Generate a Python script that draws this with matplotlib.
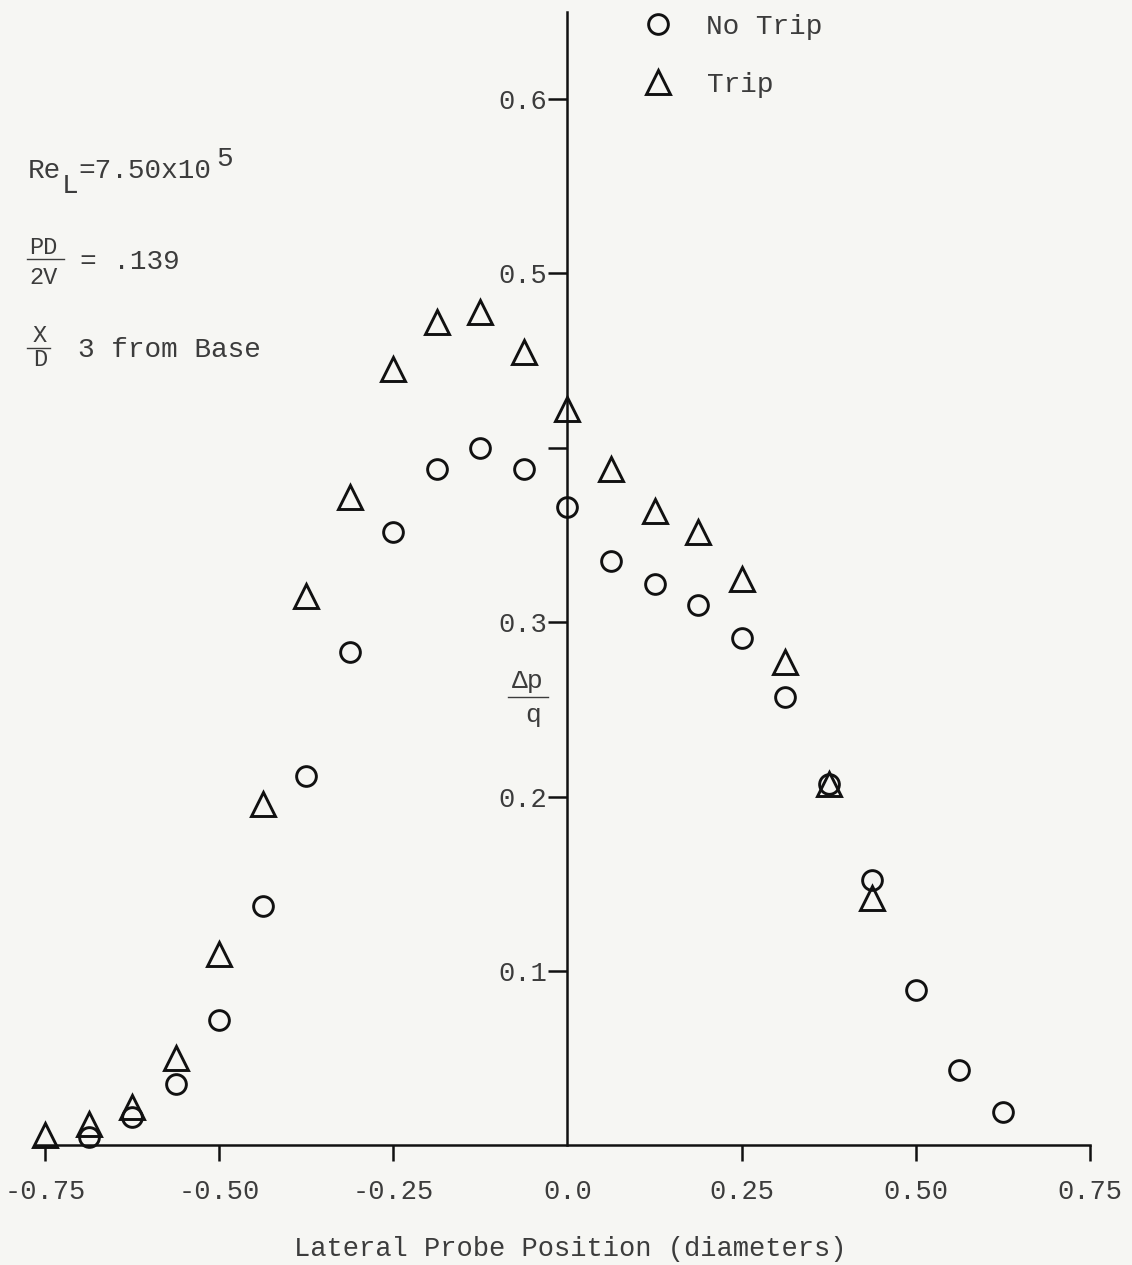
import matplotlib
matplotlib.use("Agg")
import matplotlib.pyplot as plt
from matplotlib.lines import Line2D

# Lateral probe position (diameters) and pressure coefficient dp/q
no_trip_x = [-0.6875, -0.625, -0.5625, -0.5, -0.4375, -0.375, -0.3125, -0.25,
             -0.1875, -0.125, -0.0625, 0.0, 0.0625, 0.125, 0.1875, 0.25,
             0.3125, 0.375, 0.4375, 0.5, 0.5625, 0.625]
no_trip_y = [0.005, 0.016, 0.035, 0.072, 0.137, 0.212, 0.283, 0.352,
             0.388, 0.400, 0.388, 0.366, 0.335, 0.322, 0.310, 0.291,
             0.257, 0.207, 0.152, 0.089, 0.043, 0.019]

trip_x = [-0.75, -0.6875, -0.625, -0.5625, -0.5, -0.4375, -0.375, -0.3125,
          -0.25, -0.1875, -0.125, -0.0625, 0.0, 0.0625, 0.125, 0.1875,
          0.25, 0.3125, 0.375, 0.4375]
trip_y = [0.006, 0.012, 0.022, 0.050, 0.110, 0.196, 0.315, 0.372,
          0.445, 0.472, 0.478, 0.455, 0.422, 0.388, 0.364, 0.352,
          0.325, 0.277, 0.207, 0.142]

x_ticks = [-0.75, -0.50, -0.25, 0.0, 0.25, 0.50, 0.75]
x_tick_labels = ["-0.75", "-0.50", "-0.25", "0.0", "0.25", "0.50", "0.75"]
y_ticks = [0.1, 0.2, 0.3, 0.4, 0.5, 0.6]
y_tick_labels = ["0.1", "0.2", "0.3", "", "0.5", "0.6"]

W, H = 1132, 1265
BG = "#f6f6f3"
INK = "#111111"
TEXT = "#3c3c3c"
MONO = ["Liberation Mono", "DejaVu Sans Mono"]

plt.rcParams["font.family"] = MONO

fig = plt.figure(figsize=(W / 100, H / 100), dpi=100, facecolor=BG)

# axes placed in pixel terms: x spans 27..1105 px, y=0 at 1145 px from top
x_lo, x_hi = -0.7758, 0.7715
y_lo, y_hi = 0.0, 0.655
px_per_y = 1744.0
ax = fig.add_axes([27 / W, (H - 1145.4) / H, 1078 / W, y_hi * px_per_y / H])
ax.set_facecolor("none")
ax.set_xlim(x_lo, x_hi)
ax.set_ylim(y_lo, y_hi)

mk = dict(linestyle="none", markerfacecolor="none", markeredgecolor=INK,
          markeredgewidth=2.1, clip_on=False, zorder=3)
h_nt, = ax.plot(no_trip_x, no_trip_y, marker="o", markersize=14.2,
                label="No Trip", **mk)
h_t, = ax.plot(trip_x, trip_y, marker="^", markersize=17,
               label="Trip", **mk)

# spines crossing at the origin
for s in ("top", "right"):
    ax.spines[s].set_visible(False)
ax.spines["left"].set_position(("data", 0.0))
ax.spines["bottom"].set_position(("data", 0.0))
ax.spines["left"].set_bounds(0.0, 0.65)
ax.spines["bottom"].set_bounds(-0.765, 0.75)
for s in ("left", "bottom"):
    ax.spines[s].set_linewidth(1.8)
    ax.spines[s].set_color(INK)

ax.set_xticks(x_ticks)
ax.set_xticklabels(x_tick_labels)
ax.set_yticks(y_ticks)
ax.set_yticklabels(y_tick_labels)
ax.tick_params(axis="x", direction="out", length=11.5, width=1.8, color=INK,
               pad=13, labelsize=19.5, labelcolor=TEXT)
ax.tick_params(axis="y", direction="out", length=13.5, width=1.8, color=INK,
               pad=1, labelsize=19.5, labelcolor=TEXT)
ax.xaxis.get_major_ticks()[3].tick1line.set_visible(False)

leg = ax.legend(handles=[h_nt, h_t], loc="upper left",
                bbox_to_anchor=((658 - 14) / W, 1 - 14 / H),
                bbox_transform=fig.transFigure, frameon=False,
                borderpad=0, borderaxespad=0, handlelength=1.0,
                handletextpad=1.25, labelspacing=1.15, fontsize=20)
for t in leg.get_texts():
    t.set_color(TEXT)


def ftext(x, y, s, size=20, **kw):
    fig.text(x / W, 1 - y / H, s, fontsize=size, color=TEXT,
             ha=kw.pop("ha", "left"), va=kw.pop("va", "baseline"), **kw)


def fbar(x0, x1, y):
    fig.add_artist(Line2D([x0 / W, x1 / W], [1 - y / H, 1 - y / H],
                          transform=fig.transFigure, color=TEXT, lw=1.0))


# flow conditions
ftext(28, 178, "Re")
ftext(62, 193, "L")
ftext(78, 178, "=7.50x10")
ftext(216, 166, "5")

ftext(29, 254, "PD", size=17)
fbar(27, 64, 259)
ftext(29, 284, "2V", size=17)
ftext(80, 269, "= .139")

ftext(33, 342, "X", size=17)
fbar(27, 50, 348)
ftext(33, 366, "D", size=17)
ftext(78, 357, "3 from Base")

# axis titles
ftext(528, 688, "\u0394p", size=19, ha="center")
fbar(508, 548, 697)
ftext(533, 722, "q", size=19, ha="center")
ftext(570, 1256, "Lateral Probe Position (diameters)", size=19.5, ha="center")

fig.savefig("out.png", dpi=100, facecolor=BG)
